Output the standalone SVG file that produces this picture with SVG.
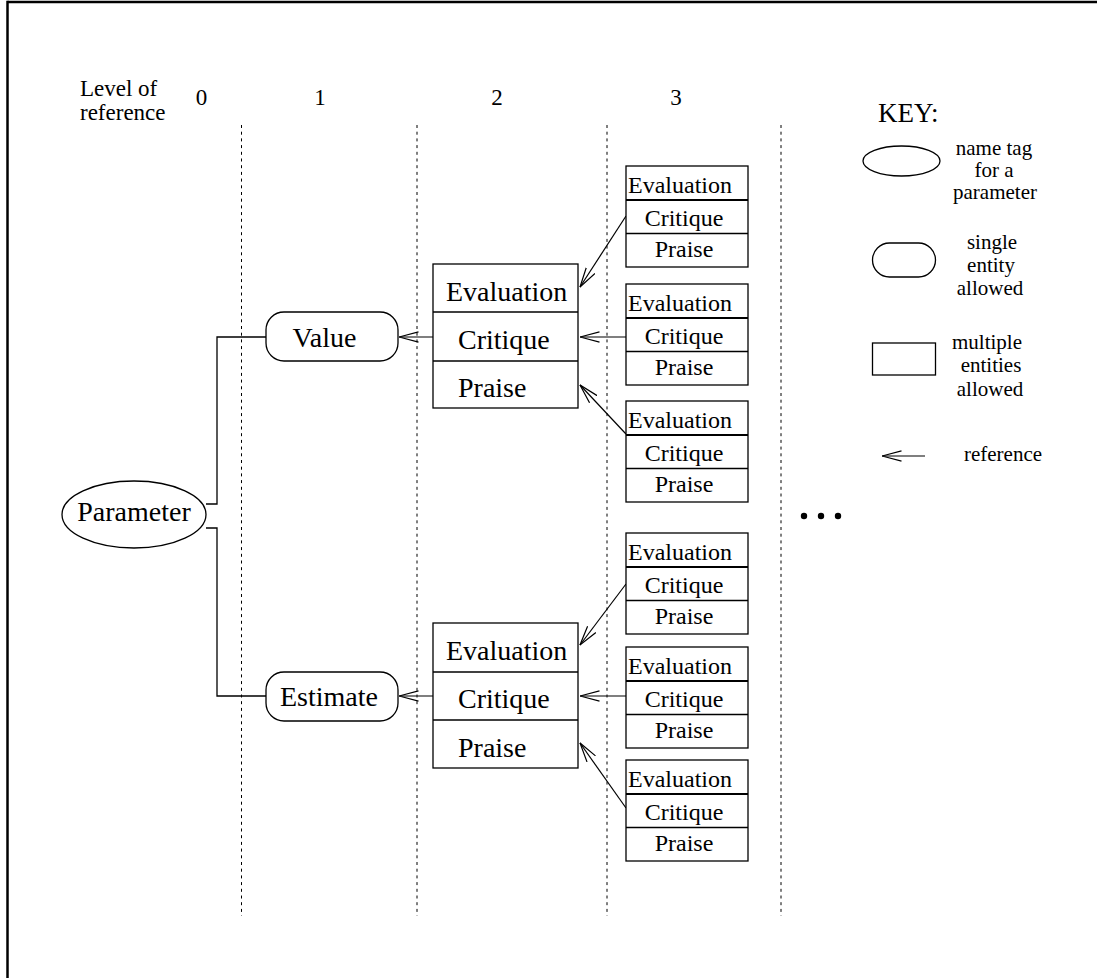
<svg xmlns="http://www.w3.org/2000/svg" width="1097" height="978" viewBox="0 0 1097 978">
  <style>
    text { font-family: "Liberation Serif", "Times New Roman", serif; fill: #000; }
    .hdr { font-size: 23px; }
    .big { font-size: 28px; }
    .sm { font-size: 24px; }
    .key { font-size: 21px; }
    .box { fill: #fff; stroke: #000; stroke-width: 1.3; }
    .div { stroke: #000; stroke-width: 1.3; }
    .divb { stroke: #000; stroke-width: 2; }
    .guide { stroke: #000; stroke-width: 1; stroke-dasharray: 3 3.7; fill: none; }
    .link { stroke: #000; stroke-width: 1.3; fill: none; }
    .ref { stroke: #000; stroke-width: 1.2; fill: none; marker-end: url(#openHead); }
  </style>
  <defs>
    <!-- open "V" arrowhead, tip at the end of the line -->
    <marker id="openHead" viewBox="0 0 20 12" refX="19.5" refY="6" markerWidth="20" markerHeight="12" markerUnits="userSpaceOnUse" orient="auto">
      <path d="M0,0.8 L19.5,6 L0,11.2" fill="none" stroke="#000" stroke-width="1.2"/>
    </marker>
    <!-- level-3 box: three stacked rows -->
    <g id="trio">
      <rect class="box" x="0" y="0" width="122" height="101"/>
      <line class="divb" x1="0" y1="34" x2="122" y2="34"/>
      <line class="div" x1="0" y1="67.5" x2="122" y2="67.5"/>
      <text class="sm" x="2" y="27">Evaluation</text>
      <text class="sm" x="58" y="60" text-anchor="middle">Critique</text>
      <text class="sm" x="58" y="91" text-anchor="middle">Praise</text>
    </g>
  </defs>

  <rect width="1097" height="978" fill="#fff"/>

  <!-- frame -->
  <line x1="7.5" y1="2" x2="1097" y2="2" stroke="#000" stroke-width="2.5"/>
  <line x1="7.5" y1="0.8" x2="7.5" y2="978" stroke="#000" stroke-width="2.5"/>

  <!-- level header -->
  <g id="levels">
    <text class="hdr" x="80" y="96">Level of</text>
    <text class="hdr" x="80" y="120">reference</text>
    <text class="hdr" x="201.5" y="105" text-anchor="middle">0</text>
    <text class="hdr" x="320" y="105" text-anchor="middle">1</text>
    <text class="hdr" x="497" y="105" text-anchor="middle">2</text>
    <text class="hdr" x="676" y="105" text-anchor="middle">3</text>
  </g>

  <!-- level separators -->
  <g id="separators">
    <line class="guide" x1="241.5" y1="125" x2="241.5" y2="916"/>
    <line class="guide" x1="417" y1="125" x2="417" y2="916"/>
    <line class="guide" x1="607" y1="125" x2="607" y2="916"/>
    <line class="guide" x1="781" y1="125" x2="781" y2="916"/>
  </g>

  <!-- connectors -->
  <g id="connectors">
    <polyline class="link" points="206,504 217,504 217,337 266,337"/>
    <polyline class="link" points="206,528 217,528 217,696 266,696"/>
    <line class="ref" x1="433" y1="337" x2="399" y2="337"/>
    <line class="ref" x1="433" y1="696" x2="399" y2="696"/>
    <line class="ref" x1="626" y1="216" x2="580" y2="287"/>
    <line class="ref" x1="626" y1="337" x2="580" y2="337"/>
    <line class="ref" x1="626" y1="434" x2="580" y2="385"/>
    <line class="ref" x1="626" y1="584" x2="580" y2="645"/>
    <line class="ref" x1="626" y1="696" x2="580" y2="696"/>
    <line class="ref" x1="626" y1="808" x2="580" y2="743"/>
  </g>

  <!-- level 0 -->
  <g id="parameter">
    <ellipse class="box" cx="134" cy="514.5" rx="72" ry="33.5"/>
    <text class="big" x="134" y="521" text-anchor="middle">Parameter</text>
  </g>

  <!-- level 1 -->
  <g id="value">
    <rect class="box" x="266" y="312" width="132" height="49" rx="18"/>
    <text class="big" x="324.5" y="347" text-anchor="middle">Value</text>
  </g>
  <g id="estimate">
    <rect class="box" x="266" y="672" width="132" height="49" rx="18"/>
    <text class="big" x="329" y="706" text-anchor="middle">Estimate</text>
  </g>

  <!-- level 2 -->
  <g id="ecp-value">
    <rect class="box" x="433" y="264" width="145" height="144"/>
    <line class="div" x1="433" y1="312" x2="578" y2="312"/>
    <line class="div" x1="433" y1="361" x2="578" y2="361"/>
    <text class="big" x="446" y="301">Evaluation</text>
    <text class="big" x="458" y="349">Critique</text>
    <text class="big" x="458" y="397">Praise</text>
  </g>
  <g id="ecp-estimate">
    <rect class="box" x="433" y="623" width="145" height="145"/>
    <line class="div" x1="433" y1="672" x2="578" y2="672"/>
    <line class="div" x1="433" y1="720" x2="578" y2="720"/>
    <text class="big" x="446" y="660">Evaluation</text>
    <text class="big" x="458" y="708">Critique</text>
    <text class="big" x="458" y="757">Praise</text>
  </g>

  <!-- level 3 -->
  <g id="ecp-v1"><use href="#trio" x="626" y="166"/></g>
  <g id="ecp-v2"><use href="#trio" x="626" y="284"/></g>
  <g id="ecp-v3"><use href="#trio" x="626" y="401"/></g>
  <g id="ecp-e1"><use href="#trio" x="626" y="533"/></g>
  <g id="ecp-e2"><use href="#trio" x="626" y="647"/></g>
  <g id="ecp-e3"><use href="#trio" x="626" y="760"/></g>

  <!-- continuation -->
  <g id="more">
    <circle cx="804" cy="516" r="3.2"/>
    <circle cx="821" cy="516" r="3.2"/>
    <circle cx="838" cy="516" r="3.2"/>
  </g>

  <!-- key -->
  <g id="key">
    <text x="878" y="122" style="font-size:27px">KEY:</text>
    <ellipse class="box" cx="901.5" cy="161" rx="38.5" ry="15"/>
    <text class="key" x="994" y="155" text-anchor="middle">name tag</text>
    <text class="key" x="994" y="177" text-anchor="middle">for a</text>
    <text class="key" x="995" y="199" text-anchor="middle">parameter</text>

    <rect class="box" x="872.5" y="243" width="63" height="34" rx="17"/>
    <text class="key" x="992" y="249" text-anchor="middle">single</text>
    <text class="key" x="991" y="272" text-anchor="middle">entity</text>
    <text class="key" x="990" y="295" text-anchor="middle">allowed</text>

    <rect class="box" x="872.5" y="343" width="63" height="32"/>
    <text class="key" x="987" y="349" text-anchor="middle">multiple</text>
    <text class="key" x="991" y="372" text-anchor="middle">entities</text>
    <text class="key" x="990" y="396" text-anchor="middle">allowed</text>

    <line class="ref" x1="925" y1="456" x2="882" y2="456"/>
    <text class="key" x="1003" y="461" text-anchor="middle">reference</text>
  </g>
</svg>
